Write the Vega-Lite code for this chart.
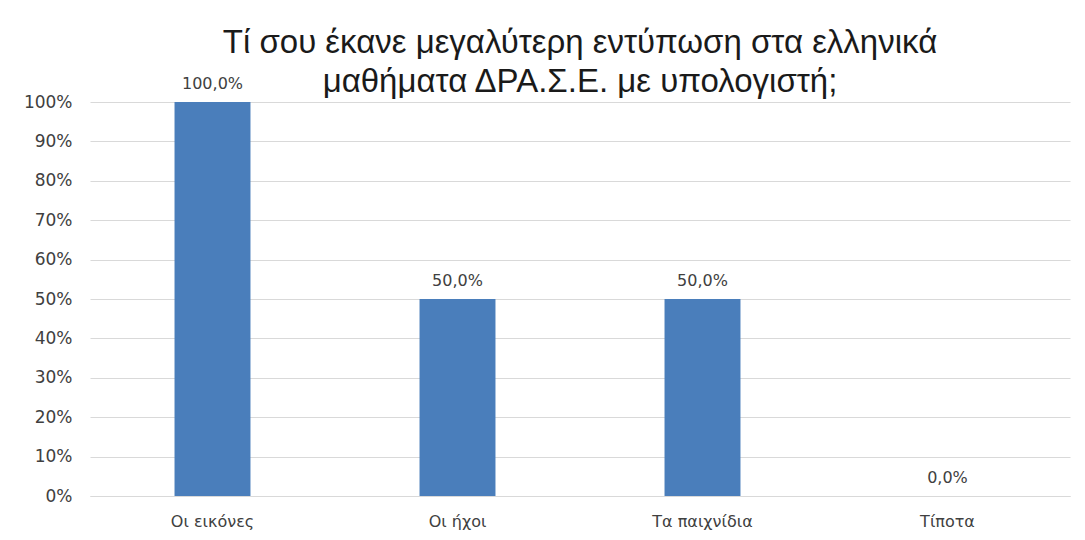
{
  "$schema": "https://vega.github.io/schema/vega-lite/v6.json",
  "autosize": {"type": "none"},
  "width": 980,
  "height": 394,
  "padding": {"left": 90, "top": 102, "right": 15, "bottom": 44},
  "background": "white",
  "config": {
    "locale": {"number": {"decimal": ",", "thousands": ".", "grouping": [3], "currency": ["", " €"]}},
    "view": {"stroke": null},
    "font": "DejaVu Sans"
  },
  "title": {
    "text": ["Τί σου έκανε μεγαλύτερη εντύπωση στα ελληνικά", "μαθήματα ΔΡΑ.Σ.Ε. με υπολογιστή;"],
    "font": "Liberation Sans",
    "fontSize": 33,
    "fontWeight": "normal",
    "color": "#1a1a1a",
    "anchor": "middle",
    "lineHeight": 39,
    "offset": -23
  },
  "data": {
    "values": [
      {"category": "Οι εικόνες", "value": 1.0},
      {"category": "Οι ήχοι", "value": 0.5},
      {"category": "Τα παιχνίδια", "value": 0.5},
      {"category": "Τίποτα", "value": 0.0}
    ]
  },
  "encoding": {
    "x": {
      "field": "category",
      "type": "nominal",
      "sort": null,
      "scale": {"paddingInner": 0.69, "paddingOuter": 0.345},
      "axis": {
        "title": null,
        "labelAngle": 0,
        "labelFontSize": 16,
        "labelColor": "#404040",
        "labelPadding": 17,
        "ticks": false,
        "domainColor": "#d9d9d9",
        "domainWidth": 1
      }
    },
    "y": {
      "field": "value",
      "type": "quantitative",
      "scale": {"domain": [0, 1]},
      "axis": {
        "title": null,
        "format": ".0%",
        "values": [0, 0.1, 0.2, 0.3, 0.4, 0.5, 0.6, 0.7, 0.8, 0.9, 1],
        "labelOverlap": false,
        "labelFontSize": 17,
        "labelColor": "#404040",
        "labelPadding": 18,
        "ticks": false,
        "domain": false,
        "gridColor": "#d9d9d9",
        "gridWidth": 1
      }
    }
  },
  "layer": [
    {"mark": {"type": "bar", "color": "#4A7EBB"}},
    {
      "mark": {"type": "text", "baseline": "alphabetic", "dy": -13, "fontSize": 16, "color": "#404040"},
      "encoding": {"text": {"field": "value", "type": "quantitative", "format": ".1%"}}
    }
  ]
}
